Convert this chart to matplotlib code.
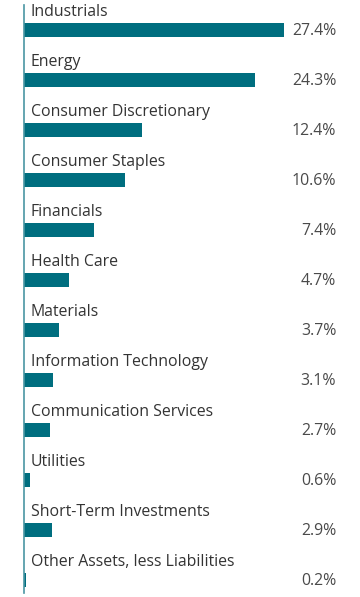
import matplotlib.pyplot as plt

# Sector allocation data
categories = ['Industrials', 'Energy', 'Consumer Discretionary', 'Consumer Staples',
              'Financials', 'Health Care', 'Materials', 'Information Technology',
              'Communication Services', 'Utilities', 'Short-Term Investments',
              'Other Assets, less Liabilities']
values = [27.4, 24.3, 12.4, 10.6, 7.4, 4.7, 3.7, 3.1, 2.7, 0.6, 2.9, 0.2]
value_labels = ['27.4%', '24.3%', '12.4%', '10.6%', '7.4%', '4.7%', '3.7%', '3.1%',
                '2.7%', '0.6%', '2.9%', '0.2%']

bar_color = '#006e7f'
text_color = '#333333'

fig = plt.figure(figsize=(3.6, 5.97), dpi=100)
ax = fig.add_axes([24 / 360, 0, 336 / 360, 1])

rows = list(range(len(categories)))
ax.barh(rows, values, height=0.28, color=bar_color)

ax.set_xlim(0, 336 / 9.49)
ax.set_ylim(11.34, -0.6)

# category names above bars, values at right
for i, (cat, lab) in enumerate(zip(categories, value_labels)):
    ax.text(0.7, i - 0.27, cat, ha='left', va='baseline', fontsize=11.4,
            family='Open Sans', color=text_color)
    ax.text(32.9, i + 0.02, lab, ha='right', va='center', fontsize=11.4,
            family='Open Sans', color='#4a4a4a')

for s in ['top', 'right', 'bottom']:
    ax.spines[s].set_visible(False)
ax.spines['left'].set_color('#4a96a3')
ax.spines['left'].set_linewidth(1.2)
ax.spines['left'].set_bounds(-0.5, 11.26)
ax.set_xticks([])
ax.set_yticks([])
ax.patch.set_alpha(0)

fig.savefig('out.png', dpi=100)
